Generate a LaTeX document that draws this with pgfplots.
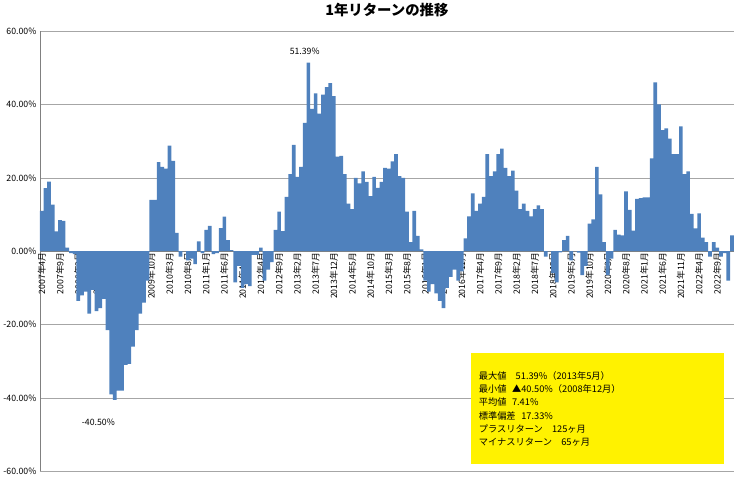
\documentclass[border=0pt]{standalone}
\usepackage{pgfplots}
\pgfplotsset{compat=1.18}
\usepackage{fontspec}
\setmainfont{Noto Sans CJK JP}
\definecolor{barblue}{RGB}{79,129,189}
\begin{document}
\begin{tikzpicture}
\begin{axis}[
  scale only axis, width=673bp, height=427bp,
  xmin=-0.5, xmax=189.5, ymin=-60, ymax=60,
  axis x line*=middle, axis y line*=left,
  ytick={-60,-40,-20,0,20,40,60},
  yticklabels={-60.00\%,-40.00\%,-20.00\%,0.00\%,20.00\%,40.00\%,60.00\%},
  yticklabel style={font=\fontsize{8.5}{9}\selectfont},
  ymajorgrids, grid style={gray!70},
  y axis line style={gray}, x axis line style={gray},
  tick style={draw=none},
  xtick={0,5,...,185},
  xticklabels={2007年4月,2007年9月,2008年2月,2008年7月,2008年12月,2009年5月,2009年10月,2010年3月,2010年8月,2011年1月,2011年6月,2011年11月,2012年4月,2012年9月,2013年2月,2013年7月,2013年12月,2014年5月,2014年10月,2015年3月,2015年8月,2016年1月,2016年6月,2016年11月,2017年4月,2017年9月,2018年2月,2018年7月,2018年12月,2019年5月,2019年10月,2020年3月,2020年8月,2021年1月,2021年6月,2021年11月,2022年4月,2022年9月},
  xticklabel style={rotate=90, anchor=east, font=\fontsize{8.5}{9}\selectfont, inner sep=1pt},
  title={\textbf{1年リターンの推移}}, title style={font=\fontsize{14}{16}\selectfont, yshift=4pt},
  clip=false,
]
\addplot[ybar, bar width=1, fill=barblue, draw=none] table[x expr=\coordindex, y index=0, header=false] {
11
17.2
19
12.7
5.4
8.5
8.3
1
-0.5
-0.8
-13.5
-12
-11
-17
-10.5
-16.3
-15.5
-13
-21.5
-39
-40.5
-38
-38
-31
-30.7
-26
-21.5
-17
-14
-8
14
14
24.3
23
22.5
28.8
24.6
5
-1.5
0
-2.5
-2
-3.5
2.7
-0.5
5.8
6.9
-0.8
-0.5
6.3
9.4
3
0.3
-8.5
-4
-10
-9
-9.5
-1
-1
1
-8
-5
-3
5.8
10.8
5.5
14.8
21
29
20.3
23
35
51.39
38.8
43
37.5
42.7
44.7
45.8
42.3
25.8
26
21
13
11.5
20
18.5
21.8
18.9
15
20.3
17.3
18.9
22.7
22.5
24.5
26.5
20.5
20
10.8
2.5
11
4.2
0.5
-8
-11
-9
-11.5
-13.5
-15.5
-10
-7
-5
-8
-5.5
3.5
9.5
15.8
11
13
14.8
26.5
20.5
21.8
26.5
28
22.7
20.5
22
16.5
11.5
13
11
9.5
11.5
12.5
11.5
-1.5
0
-6
-8.5
-0.3
3
4.2
-2.5
0
-0.4
-6.5
-4
7.5
8.7
23
15.5
2.5
-6.5
-2
5.8
4.5
4.3
16.3
11.3
5.6
14.3
14.5
14.7
14.7
25.3
46
40
33
33.5
30.7
26.5
26.5
34
21
21.8
10.2
6.2
10.3
3.7
2.5
-1.5
2.5
1
-1.5
-0.5
-8
4.3
};
\node[font=\fontsize{8.5}{9}\selectfont] at (axis cs:72,54.5) {51.39\%};
\node[font=\fontsize{8.5}{9}\selectfont] at (axis cs:15.5,-46.5) {-40.50\%};
\node[fill=yellow, anchor=north west, minimum width=245bp, minimum height=108bp, text width=230bp, align=left, font=\fontsize{9}{13}\selectfont, inner sep=6bp] at (rel axis cs:0.621,0.269) {最大値\hspace{1em}51.39\%（2013年5月）\\最小値\hspace{0.6em}▲40.50\%（2008年12月）\\平均値\hspace{0.6em}7.41\%\\標準偏差\hspace{0.6em}17.33\%\\プラスリターン\hspace{1em}125ヶ月\\マイナスリターン\hspace{1em}65ヶ月};
\end{axis}
\end{tikzpicture}
\end{document}
